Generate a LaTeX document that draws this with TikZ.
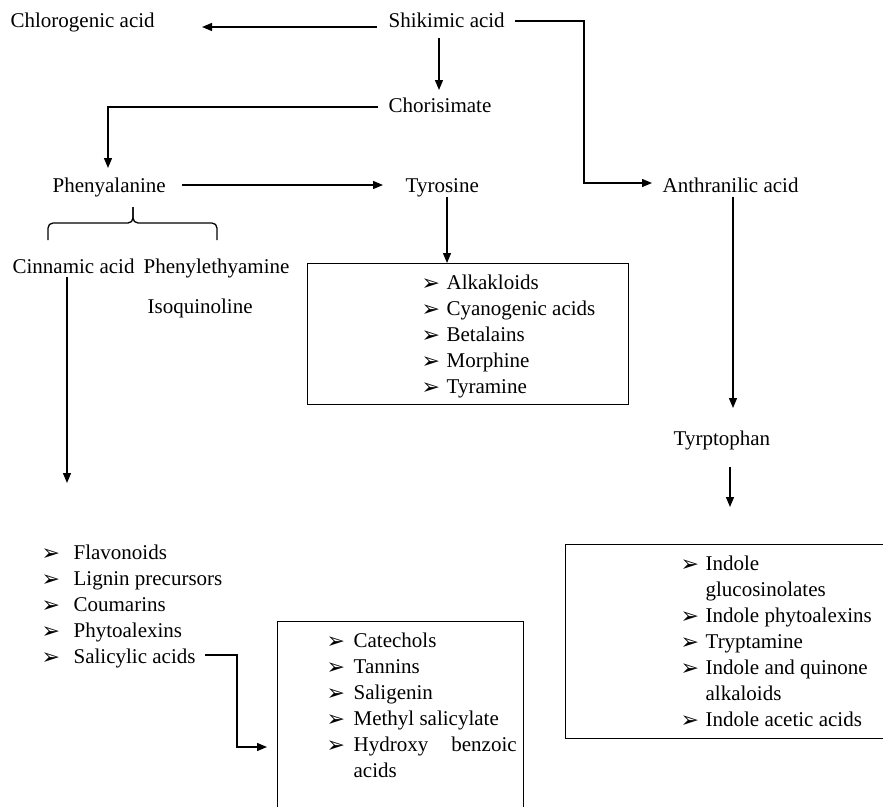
\documentclass[tikz,border=0pt]{standalone}
\usepackage{fontspec}
\setmainfont{Liberation Serif}
\newfontfamily\dejavu{DejaVu Sans}
\usetikzlibrary{arrows.meta}
\newcommand{\mybul}[1]{\makebox[#1][l]{\hspace*{-2pt}\raisebox{-1pt}{\fontsize{22}{22}\selectfont\dejavu ➢}}}
\begin{document}
\begin{tikzpicture}[x=1pt, y=-1pt, line width=1.3pt,
  every node/.style={inner sep=0pt, font=\fontsize{21}{26}\selectfont},
  txt/.style={anchor=base west},
  arr/.style={-{Triangle[length=10pt,width=8pt]}},
  box/.style={draw, anchor=north west, line width=1.3pt},
  lst/.style={anchor=north west, align=left}]
\useasboundingbox (0,0) rectangle (883,806);
\clip (0,0) rectangle (883,806);
% text nodes
\node[txt] (chlor) at (10,27) {Chlorogenic acid};
\node[txt] (shik) at (388,27) {Shikimic acid};
\node[txt] (chor) at (388,112) {Chorisimate};
\node[txt] (phen) at (52,192) {Phenyalanine};
\node[txt] (tyr) at (405,192) {Tyrosine};
\node[txt] (anth) at (662,192) {Anthranilic acid};
\node[txt] (cinn) at (12,273) {Cinnamic acid};
\node[txt] (pheth) at (143,273) {Phenylethyamine};
\node[txt] (isoq) at (147,313) {Isoquinoline};
\node[txt] (tryp) at (673,445) {Tyrptophan};
% boxes
\node[box, minimum width=321pt, minimum height=141pt] (tbox) at (307,263) {};
\node[box, minimum width=246pt, minimum height=230pt] (sbox) at (277,621) {};
\node[box, minimum width=340pt, minimum height=194pt] (ibox) at (565,544) {};
% lists
\node[lst] (tlist) at (423,271) {\begin{tabular}{@{}l@{}l@{}}
\mybul{23pt}&Alkakloids\\
\mybul{23pt}&Cyanogenic acids\\
\mybul{23pt}&Betalains\\
\mybul{23pt}&Morphine\\
\mybul{23pt}&Tyramine
\end{tabular}};
\node[lst] (flist) at (43,541) {\begin{tabular}{@{}l@{}l@{}}
\mybul{30pt}&Flavonoids\\
\mybul{30pt}&Lignin precursors\\
\mybul{30pt}&Coumarins\\
\mybul{30pt}&Phytoalexins\\
\mybul{30pt}&Salicylic acids
\end{tabular}};
\node[lst] (slist) at (328,629) {\begin{tabular}{@{}l@{}l@{}}
\mybul{25pt}&Catechols\\
\mybul{25pt}&Tannins\\
\mybul{25pt}&Saligenin\\
\mybul{25pt}&Methyl salicylate\\
\mybul{25pt}&Hydroxy\hspace{1.1em}benzoic\\
&acids
\end{tabular}};
\node[lst] (ilist) at (682,552) {\begin{tabular}{@{}l@{}l@{}}
\mybul{23pt}&Indole\\
&glucosinolates\\
\mybul{23pt}&Indole phytoalexins\\
\mybul{23pt}&Tryptamine\\
\mybul{23pt}&Indole and quinone\\
&alkaloids\\
\mybul{23pt}&Indole acetic acids
\end{tabular}};
% connectors
\draw[arr] ([shift={(-11,0)}]shik.base west) -- ([shift={(192,0)}]chlor.base west);
\draw[arr] ([shift={(51,11)}]shik.base west) -- ([shift={(51,-22)}]chor.base west);
\draw[arr] ([shift={(-10,-5)}]chor.base west) -| ([shift={(56,-24)}]phen.base west);
\draw[arr] ([shift={(130,-7)}]phen.base west) -- ([shift={(-22,-7)}]tyr.base west);
\draw[arr] ([shift={(127,-6)}]shik.base west) -- ([shift={(196,-6)}]shik.base west) |- ([shift={(-10,-9)}]anth.base west);
\draw[arr] ([shift={(42,5)}]tyr.base west) -- ([shift={(140,0)}]tbox.north west);
\draw[arr] ([shift={(71,5)}]anth.base west) -- ([shift={(60,-37)}]tryp.base west);
\draw[arr] ([shift={(57,22)}]tryp.base west) -- ([shift={(165,-37)}]ibox.north west);
\draw[arr] ([shift={(55,4)}]cinn.base west) -- ([shift={(24,-58)}]flist.north west);
\draw[arr] ([shift={(162,114)}]flist.north west) -- ([shift={(194,114)}]flist.north west) |- ([shift={(-10,126)}]sbox.north west);
% bracket
\draw[rounded corners=5pt] (48,240) -- (48,223) -- (133,223) -- (133,207);
\draw[rounded corners=5pt] (217,240) -- (217,223) -- (133,223) -- (133,207);
\end{tikzpicture}
\end{document}
